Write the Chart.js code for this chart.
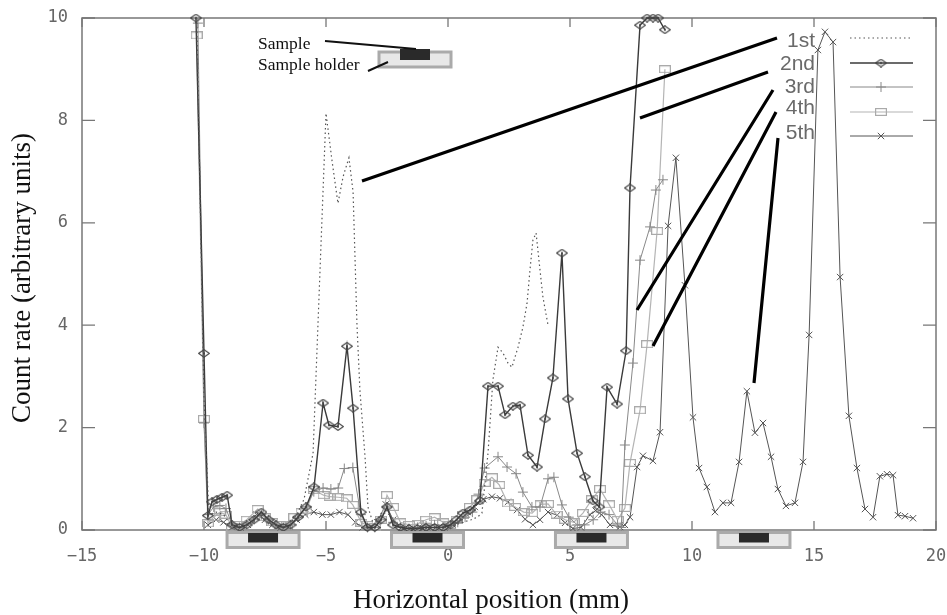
<!DOCTYPE html>
<html><head><meta charset="utf-8">
<script src="https://cdn.jsdelivr.net/npm/chart.js@4.4.1/dist/chart.umd.min.js"></script>
<style>html,body{margin:0;padding:0;background:#fff}#wrap{width:947px;height:615px}</style>
</head><body><div id="wrap"><canvas id="c" width="947" height="615"></canvas></div>
<script>
// ---------------- data ----------------
const seriesNames = ["1st", "2nd", "3rd", "4th", "5th"];
const xTickValues = [-15, -10, -5, 0, 5, 10, 15, 20];
const yTickValues = [0, 2, 4, 6, 8, 10];
const xTitle = "Horizontal position (mm)";
const yTitle = "Count rate (arbitrary units)";

const x1 = [-10.3,-10.0,-9.8,-9.5,-9.2,-8.9,-8.6,-8.3,-8.0,-7.7,-7.4,-7.1,-6.8,-6.5,-6.2,-5.9,-5.53,-5.0,-4.75,-4.51,-4.3,-4.06,-3.89,-3.73,-3.61,-3.40,-3.28,-3.05,-2.7,-2.4,-2.1,-1.8,-1.5,-1.2,-0.9,-0.6,-0.3,0.0,0.3,0.6,0.95,1.2,1.39,1.64,1.84,2.05,2.25,2.46,2.62,2.87,3.07,3.24,3.36,3.48,3.61,3.77,3.89,4.10];
const y1 = [10,2.6,0.3,0.35,0.3,0.1,0.05,0.08,0.15,0.25,0.2,0.1,0.05,0.1,0.3,0.6,1.5,8.14,7.2,6.38,6.9,7.27,6.6,4.0,2.73,1.43,0.45,0.1,0.35,0.3,0.1,0.05,0.05,0.05,0.1,0.1,0.05,0.05,0.1,0.15,0.2,0.25,0.33,1.5,2.93,3.57,3.46,3.26,3.18,3.57,3.96,4.43,5.08,5.66,5.8,5.08,4.55,4.0];

const x2 = [-10.33,-10.0,-9.84,-9.67,-9.47,-9.26,-9.05,-8.85,-8.55,-8.25,-7.95,-7.65,-7.35,-7.05,-6.75,-6.45,-6.15,-5.82,-5.49,-5.12,-4.88,-4.51,-4.14,-3.89,-3.57,-3.3,-3.0,-2.75,-2.5,-2.25,-1.95,-1.6,-1.25,-0.9,-0.55,-0.2,0.1,0.35,0.61,0.9,1.31,1.64,2.05,2.34,2.66,2.95,3.28,3.65,3.98,4.30,4.67,4.92,5.29,5.61,5.94,6.2,6.52,6.93,7.30,7.46,7.87,8.16,8.40,8.61,8.89];
const y2 = [10,3.45,0.28,0.55,0.6,0.64,0.68,0.1,0.05,0.1,0.2,0.35,0.2,0.1,0.05,0.1,0.25,0.45,0.84,2.48,2.05,2.02,3.59,2.38,0.35,0.05,0.05,0.2,0.45,0.1,0.05,0.03,0.03,0.05,0.05,0.05,0.1,0.2,0.33,0.39,0.57,2.81,2.81,2.25,2.42,2.44,1.46,1.23,2.17,2.97,5.41,2.56,1.50,1.04,0.57,0.45,2.79,2.46,3.5,6.68,9.86,10.0,10.0,10.0,9.77];

const x3 = [-10.25,-10.0,-9.84,-9.6,-9.35,-9.1,-8.85,-8.55,-8.25,-7.95,-7.65,-7.35,-7.05,-6.75,-6.45,-6.15,-5.82,-5.5,-5.12,-4.8,-4.5,-4.25,-3.9,-3.57,-3.3,-3.0,-2.75,-2.5,-2.25,-1.95,-1.6,-1.25,-0.9,-0.55,-0.2,0.1,0.4,0.7,1.0,1.25,1.5,2.05,2.42,2.79,3.07,3.44,3.77,4.10,4.34,4.67,4.95,5.3,5.6,5.95,6.25,6.6,6.95,7.1,7.25,7.58,7.87,8.28,8.52,8.81];
const y3 = [9.9,2.09,0.3,0.45,0.48,0.42,0.1,0.05,0.1,0.2,0.3,0.2,0.1,0.05,0.1,0.25,0.45,0.75,0.82,0.8,0.82,1.2,1.22,0.3,0.05,0.05,0.2,0.45,0.15,0.05,0.03,0.05,0.08,0.1,0.08,0.1,0.15,0.25,0.35,0.7,1.21,1.43,1.23,1.1,0.74,0.45,0.45,1.0,1.03,0.49,0.25,0.1,0.1,0.2,0.35,0.3,0.1,0.05,1.66,3.26,5.27,5.92,6.64,6.84];

const x4 = [-10.3,-10.0,-9.84,-9.6,-9.35,-9.1,-8.85,-8.55,-8.25,-7.8,-7.5,-7.2,-6.9,-6.6,-6.3,-6.0,-5.8,-5.5,-5.1,-4.85,-4.5,-4.15,-3.9,-3.55,-3.3,-3.0,-2.75,-2.5,-2.25,-1.95,-1.6,-1.25,-0.9,-0.55,-0.2,0.1,0.35,0.61,0.9,1.2,1.5,1.8,2.1,2.45,2.75,3.1,3.45,3.8,4.1,4.45,4.8,5.15,5.53,5.90,6.23,6.6,6.95,7.25,7.46,7.87,8.16,8.57,8.89];
const y4 = [9.66,2.17,0.13,0.25,0.35,0.3,0.05,0.1,0.2,0.41,0.25,0.15,0.1,0.1,0.25,0.35,0.4,0.78,0.68,0.65,0.64,0.62,0.49,0.14,0.1,0.05,0.2,0.68,0.45,0.15,0.1,0.12,0.2,0.25,0.15,0.1,0.2,0.3,0.45,0.6,0.92,1.03,0.88,0.52,0.45,0.35,0.33,0.5,0.51,0.3,0.2,0.15,0.33,0.6,0.8,0.5,0.2,0.43,1.31,2.34,3.63,5.84,9.0];

const x5 = [-9.84,-9.5,-9.2,-8.85,-8.5,-8.2,-7.85,-7.5,-7.2,-6.85,-6.5,-6.2,-5.85,-5.5,-5.15,-4.8,-4.45,-4.1,-3.8,-3.5,-3.2,-2.9,-2.55,-2.25,-1.9,-1.55,-1.2,-0.85,-0.5,-0.15,0.2,0.5,0.8,1.1,1.45,1.80,2.13,2.46,2.83,3.16,3.48,3.77,4.10,4.47,4.80,5.12,5.45,5.82,6.05,6.30,6.64,7.05,7.25,7.46,7.75,7.99,8.40,8.69,9.02,9.34,9.71,10.04,10.29,10.61,10.94,11.27,11.60,11.93,12.25,12.58,12.91,13.24,13.52,13.85,14.22,14.55,14.80,15.16,15.45,15.78,16.07,16.43,16.76,17.09,17.42,17.70,17.99,18.24,18.44,18.73,19.06];
const y5 = [0.1,0.2,0.15,0.05,0.05,0.1,0.3,0.2,0.1,0.05,0.08,0.2,0.3,0.35,0.3,0.3,0.35,0.3,0.15,0.05,0.05,0.15,0.5,0.2,0.05,0.03,0.05,0.05,0.05,0.05,0.1,0.2,0.35,0.45,0.6,0.65,0.62,0.55,0.39,0.21,0.1,0.2,0.35,0.29,0.14,0.03,0.05,0.3,0.38,0.3,0.1,0.06,0.1,0.25,1.23,1.45,1.35,1.91,5.94,7.27,4.78,2.2,1.21,0.84,0.35,0.53,0.53,1.33,2.71,1.9,2.09,1.43,0.8,0.47,0.53,1.33,3.81,9.375,9.73,9.53,4.94,2.23,1.21,0.41,0.25,1.05,1.09,1.07,0.29,0.27,0.23];

// ---------------- styling ----------------
function mk(w, h, draw) { const c = document.createElement('canvas'); c.width = w; c.height = h; draw(c.getContext('2d')); return c; }
const diamondImg = mk(12, 9, g => {
  g.strokeStyle = '#444'; g.lineWidth = 1.1;
  g.beginPath(); g.moveTo(0.6, 4.5); g.lineTo(6, 0.7); g.lineTo(11.4, 4.5); g.lineTo(6, 8.3); g.closePath(); g.stroke();
  g.fillStyle = '#444'; g.fillRect(5, 3.5, 2, 2);
});
const squareImg = mk(12, 8, g => {
  g.strokeStyle = '#aaa'; g.lineWidth = 1.2; g.strokeRect(0.6, 0.6, 10.8, 6.8);
});
const pts = (xs, ys) => xs.map((x, i) => ({ x: x, y: ys[i] }));

const styles = [
  { color: '#555', width: 1.2, dash: [1.5, 3], point: false, radius: 0 },
  { color: '#3a3a3a', width: 1.4, dash: [], point: diamondImg, radius: 4 },
  { color: '#888', width: 1.0, dash: [], point: 'cross', radius: 5 },
  { color: '#b4b4b4', width: 1.2, dash: [], point: squareImg, radius: 4 },
  { color: '#555', width: 1.0, dash: [], point: 'crossRot', radius: 4.5 }
];
const allX = [x1, x2, x3, x4, x5], allY = [y1, y2, y3, y4, y5];

const datasets = seriesNames.map((name, i) => ({
  label: name,
  data: pts(allX[i], allY[i]),
  borderColor: styles[i].color,
  borderWidth: styles[i].width,
  borderDash: styles[i].dash,
  pointStyle: styles[i].point,
  pointRadius: styles[i].radius,
  pointBorderColor: styles[i].color,
  pointBorderWidth: 1,
  pointBackgroundColor: 'rgba(0,0,0,0)',
  fill: false,
  tension: 0,
  clip: false
}));

const deco = {
  id: 'deco',
  beforeDatasetsDraw(chart) {
    const { ctx, chartArea: a, scales: { x, y } } = chart;
    ctx.save();
    ctx.strokeStyle = '#777'; ctx.lineWidth = 1.5;
    ctx.strokeRect(a.left, a.top, a.right - a.left, a.bottom - a.top);
    ctx.lineWidth = 1.3;
    ctx.beginPath();
    x.ticks.forEach(t => { const p = x.getPixelForValue(t.value);
      ctx.moveTo(p, a.bottom); ctx.lineTo(p, a.bottom - 9); ctx.moveTo(p, a.top); ctx.lineTo(p, a.top + 9); });
    y.ticks.forEach(t => { const p = y.getPixelForValue(t.value);
      ctx.moveTo(a.left, p); ctx.lineTo(a.left + 13, p); ctx.moveTo(a.right, p); ctx.lineTo(a.right - 13, p); });
    ctx.stroke();
    ctx.restore();
  },
  afterDatasetsDraw(chart) {
    const { ctx, chartArea: a, scales: { x } } = chart;
    ctx.save();
    // sample holders below the axis
    const holder = (cx, top, bTop, bH) => {
      ctx.fillStyle = '#e8e8e8'; ctx.strokeStyle = '#aaa'; ctx.lineWidth = 3;
      ctx.fillRect(cx - 36, top, 72, 15); ctx.strokeRect(cx - 36, top, 72, 15);
      ctx.fillStyle = '#2a2a2a'; ctx.fillRect(cx - 15, bTop, 30, bH);
    };
    [-7.58, -0.84, 5.88, 12.54].forEach(mm => holder(x.getPixelForValue(mm), a.bottom + 2.5, a.bottom + 3, 9.5));
    holder(415, 52, 49, 11);
    // annotation text
    ctx.fillStyle = '#111'; ctx.font = '17.5px "Liberation Serif"'; ctx.textAlign = 'left'; ctx.textBaseline = 'alphabetic';
    ctx.fillText('Sample', 258, 49);
    ctx.fillText('Sample holder', 258, 70);
    ctx.strokeStyle = '#111'; ctx.lineWidth = 2;
    ctx.beginPath(); ctx.moveTo(325, 41); ctx.lineTo(416, 49); ctx.moveTo(368, 71); ctx.lineTo(388, 62); ctx.stroke();
    // leader lines from legend labels
    ctx.strokeStyle = '#000'; ctx.lineWidth = 3.2; ctx.lineCap = 'butt';
    const leaders = [[777, 38, 362, 181], [768, 72, 640, 118], [773, 90, 637, 310], [776, 112, 653, 346], [778, 138, 754, 383]];
    ctx.beginPath();
    leaders.forEach(l => { ctx.moveTo(l[0], l[1]); ctx.lineTo(l[2], l[3]); });
    ctx.stroke();
    // legend
    const ly = [38, 63, 87, 112, 136];
    const ty = [41, 64, 87, 108, 133];
    ctx.font = '21px "Liberation Sans"'; ctx.fillStyle = '#6a6a6a'; ctx.textAlign = 'right'; ctx.textBaseline = 'middle';
    seriesNames.forEach((n, i) => {
      ctx.fillText(n, 815, ty[i]);
      const s = styles[i];
      ctx.strokeStyle = s.color; ctx.lineWidth = s.width; ctx.setLineDash(s.dash);
      ctx.beginPath(); ctx.moveTo(850, ly[i]); ctx.lineTo(913, ly[i]); ctx.stroke();
      ctx.setLineDash([]);
      const cx = 881, cy = ly[i];
      if (s.point && typeof s.point === 'object') ctx.drawImage(s.point, cx - s.point.width / 2, cy - s.point.height / 2);
      else if (s.point === 'cross') { ctx.lineWidth = 1; ctx.beginPath(); ctx.moveTo(cx - 5, cy); ctx.lineTo(cx + 5, cy); ctx.moveTo(cx, cy - 5); ctx.lineTo(cx, cy + 5); ctx.stroke(); }
      else if (s.point === 'crossRot') { const r = 3.2; ctx.lineWidth = 1; ctx.beginPath(); ctx.moveTo(cx - r, cy - r); ctx.lineTo(cx + r, cy + r); ctx.moveTo(cx - r, cy + r); ctx.lineTo(cx + r, cy - r); ctx.stroke(); }
    });
    // axis titles
    ctx.fillStyle = '#111'; ctx.font = '27px "Liberation Serif"'; ctx.textAlign = 'center'; ctx.textBaseline = 'middle';
    ctx.fillText(xTitle, 491, 601);
    ctx.translate(23, 278); ctx.rotate(-Math.PI / 2); ctx.fillText(yTitle, 0, 0);
    ctx.restore();
  }
};

new Chart(document.getElementById('c'), {
  type: 'line',
  data: { datasets: datasets },
  options: {
    responsive: false, animation: false, devicePixelRatio: 1,
    layout: { padding: { top: 18, right: 11, left: 0, bottom: 0 } },
    plugins: { legend: { display: false }, tooltip: { enabled: false } },
    scales: {
      x: {
        type: 'linear', min: -15, max: 20,
        grid: { display: false, drawTicks: false }, border: { display: false },
        afterBuildTicks: s => { s.ticks = xTickValues.map(v => ({ value: v })); },
        afterFit: s => { s.height = 85; s.paddingLeft = 0; s.paddingRight = 0; },
        ticks: { padding: 16, color: '#666', font: { family: 'DejaVu Sans Mono', size: 17 },
          callback: v => String(v).replace('-', '\u2212') }
      },
      y: {
        type: 'linear', min: 0, max: 10,
        grid: { display: false, drawTicks: false }, border: { display: false },
        afterBuildTicks: s => { s.ticks = yTickValues.map(v => ({ value: v })); },
        afterFit: s => { s.width = 82; s.paddingTop = 0; s.paddingBottom = 0; },
        ticks: { padding: 14, color: '#666', font: { family: 'DejaVu Sans Mono', size: 17 } }
      }
    }
  },
  plugins: [deco]
});
</script>
</body></html>
